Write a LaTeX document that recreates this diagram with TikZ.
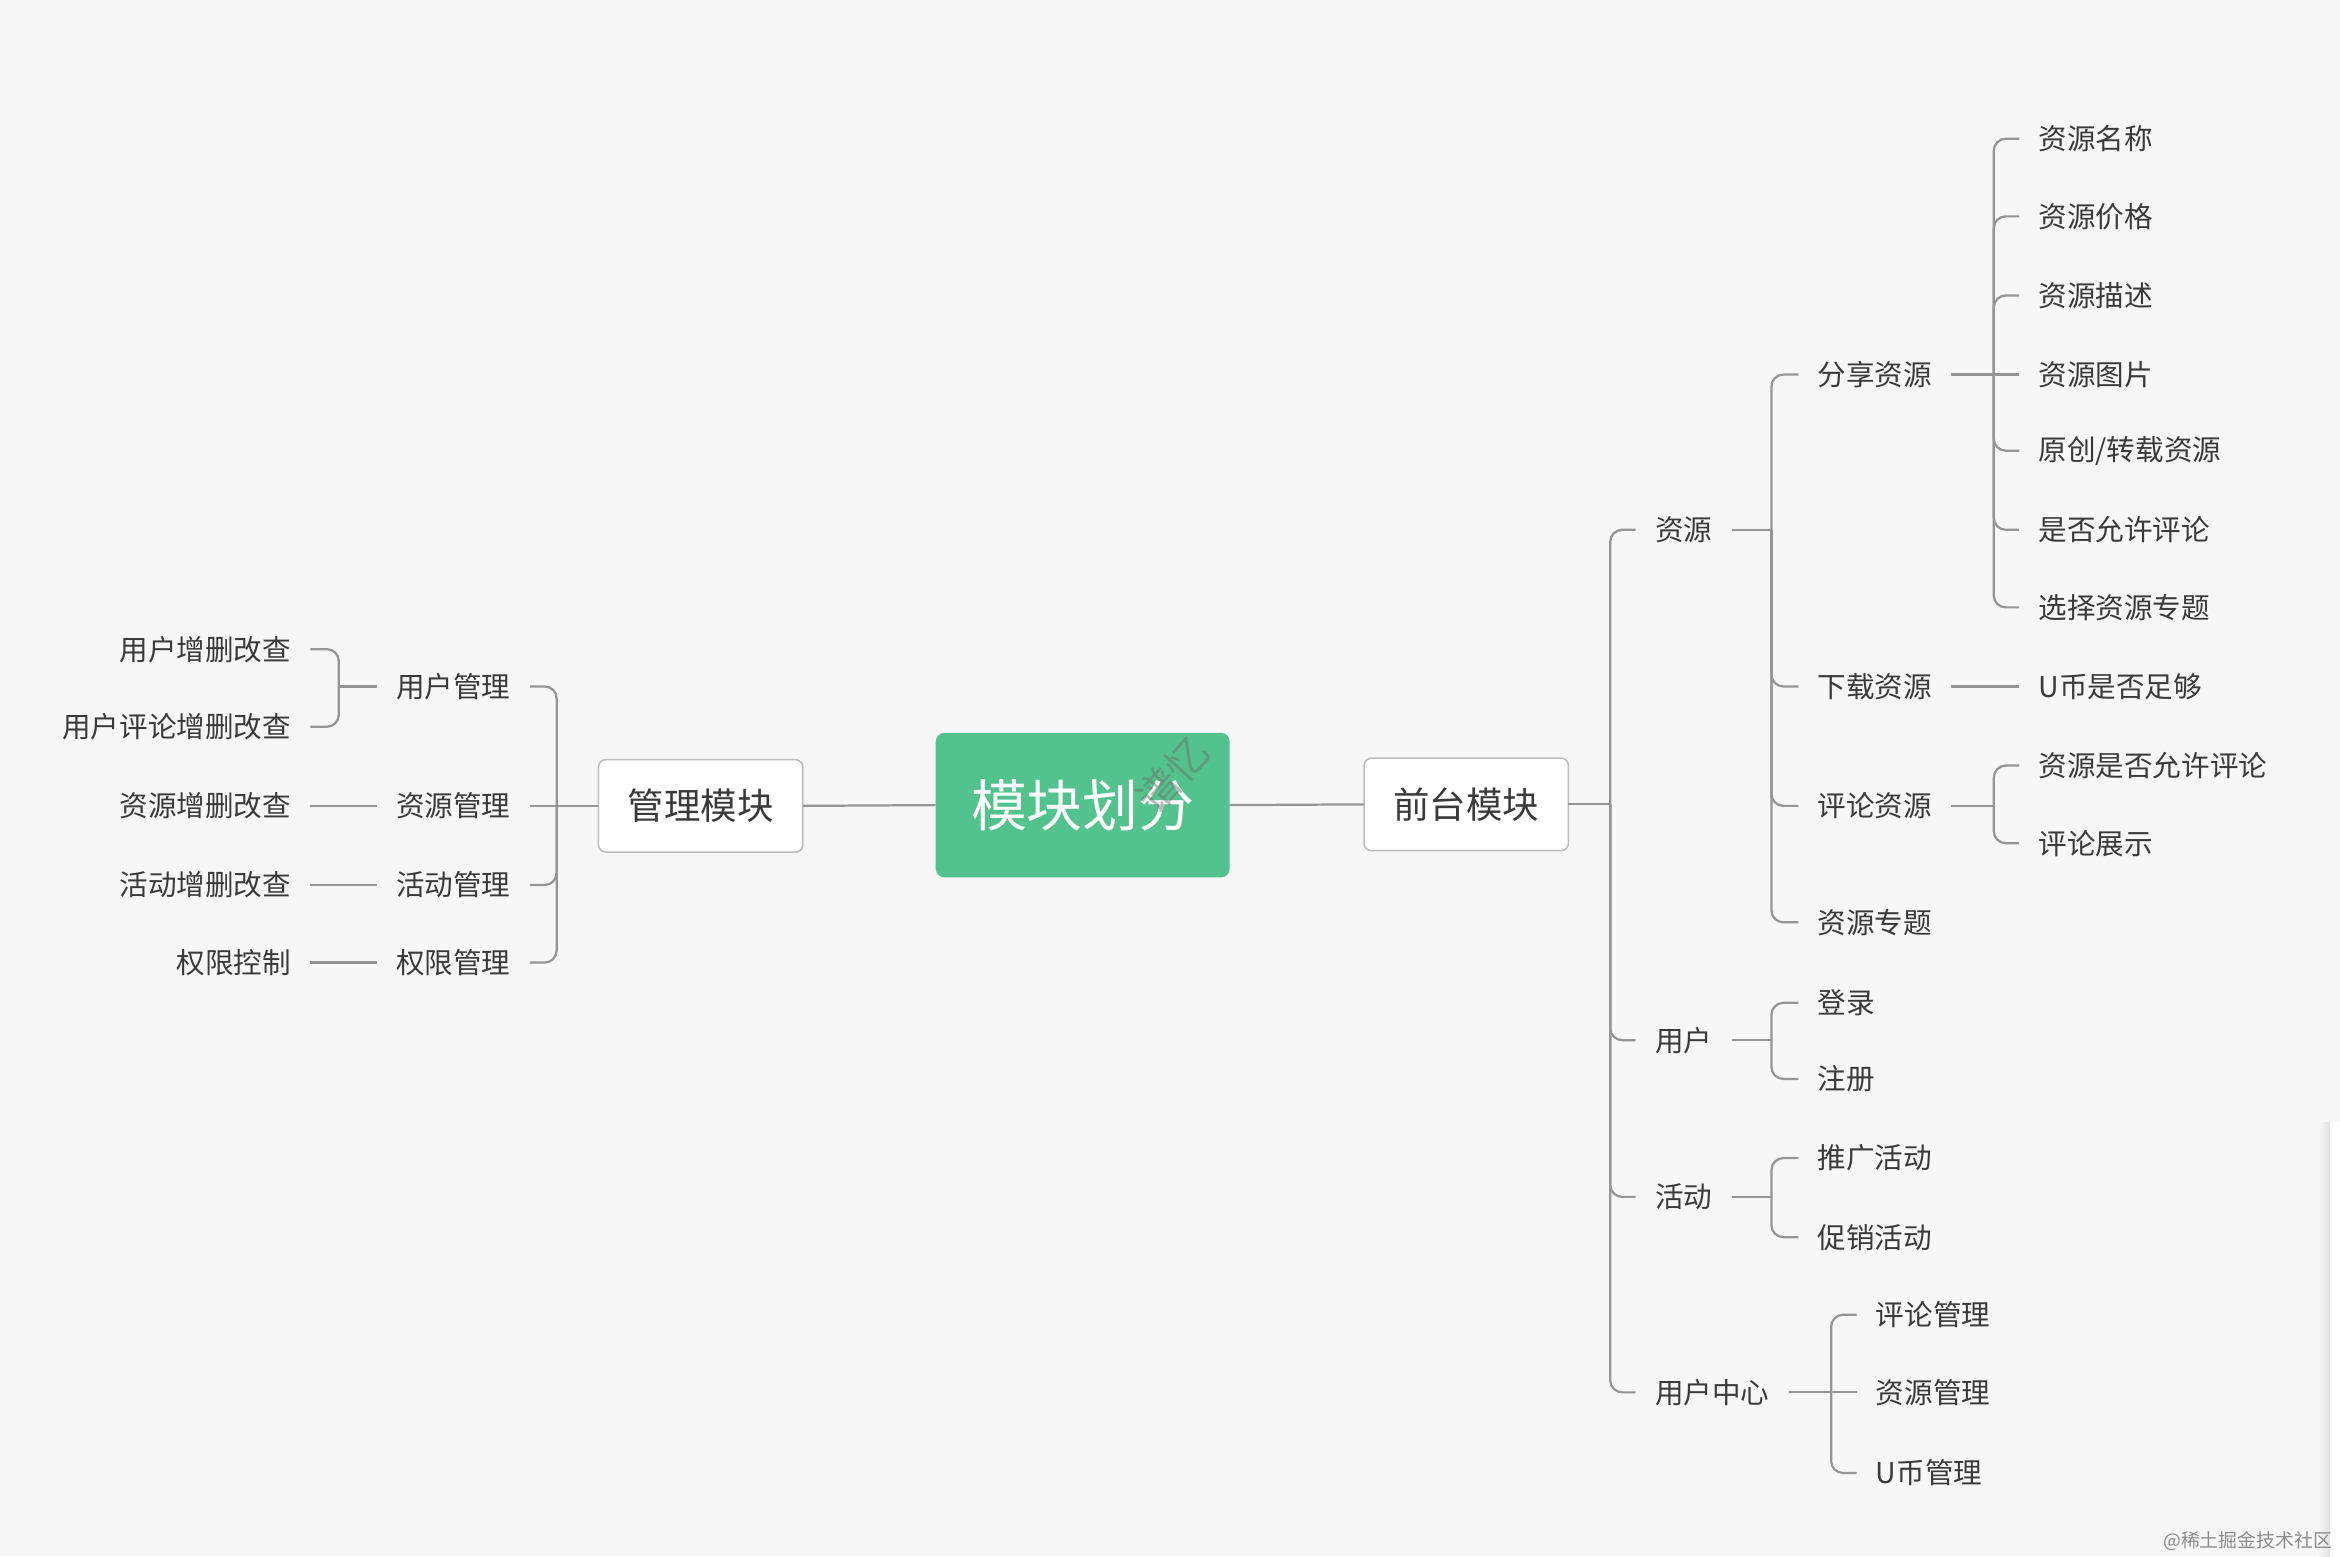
\documentclass[tikz,border=0pt]{standalone}
\usepackage{fontspec}
\setmainfont{Noto Sans CJK SC}
\definecolor{bg}{HTML}{F7F7F7}
\definecolor{ln}{HTML}{959595}
\definecolor{tx}{HTML}{3A3A3A}
\definecolor{grn}{HTML}{52C38C}
\definecolor{bd}{HTML}{BDBDBD}
\begin{document}
\begin{tikzpicture}[x=0.02cm,y=-0.02cm,
  leaf/.style={inner sep=0pt, outer xsep=0.26cm, outer ysep=0pt, text=tx, font=\fontsize{10.9}{13}\selectfont},
  lft/.style={leaf, anchor=east},
  rgt/.style={leaf, anchor=west},
  modbox/.style={draw=bd, line width=0.6pt, fill=white, rounded corners=0.1cm, minimum width=2.74cm, minimum height=1.24cm, text=tx, font=\fontsize{13.9}{16}\selectfont, inner sep=0pt, outer sep=0pt},
  rootbox/.style={fill=grn, rounded corners=0.12cm, minimum width=3.94cm, minimum height=1.94cm, text=white, font=\fontsize{21.3}{24}\selectfont, inner sep=0pt, outer sep=0pt},
  conn/.style={draw=ln, line width=0.85pt},
  br/.style={conn, rounded corners=0.16cm},
]
\useasboundingbox (0,0) rectangle (1568,1042.7);
\fill[bg] (0,0) rectangle (1568,1042.7);
\shade[left color=bg, right color=black!12] (1554,752) rectangle (1561,1042.7);
\fill[white] (1561,752) rectangle (1568,1042.7);

% main nodes
\node[rootbox] (R) at (725.5,539.5) {模块划分};
\node[rotate=48, text=black!55, opacity=0.5, font=\fontsize{16}{16}\selectfont] (wm) at (786,519) {谱忆};
\node[modbox] (M) at (469.5,540) {管理模块};
\node[modbox] (F) at (982.5,539) {前台模块};
\draw[conn] (M.east) -- (R.west);
\draw[conn] (R.east) -- (F.west);

% ---------- right side ----------
\node[rgt] (z1) at (1096,355) {资源};
\node[rgt] (z2) at (1096,697) {用户};
\node[rgt] (z3) at (1096,802) {活动};
\node[rgt] (z4) at (1096,933) {用户中心};
\coordinate (jF) at (1079,539);
\draw[conn] (F.east) -- (jF);
\foreach \c in {z1,z2,z3,z4} \draw[br] (jF) |- (\c.west);

\node[rgt] (s1) at (1205,251) {分享资源};
\node[rgt] (s2) at (1205,460) {下载资源};
\node[rgt] (s3) at (1205,540) {评论资源};
\node[rgt] (s4) at (1205,618) {资源专题};
\coordinate (jz1) at (1187,355);
\draw[conn] (z1.east) -- (jz1);
\foreach \c in {s1,s2,s3,s4} \draw[br] (jz1) |- (\c.west);

\node[rgt] (a1) at (1353,93) {资源名称};
\node[rgt] (a2) at (1353,145) {资源价格};
\node[rgt] (a3) at (1353,198) {资源描述};
\node[rgt] (a4) at (1353,251) {资源图片};
\node[rgt] (a5) at (1353,302) {原创/转载资源};
\node[rgt] (a6) at (1353,355) {是否允许评论};
\node[rgt] (a7) at (1353,407) {选择资源专题};
\coordinate (js1) at (1336,251);
\draw[conn] (s1.east) -- (js1);
\foreach \c in {a1,a2,a3,a5,a6,a7} \draw[br] (js1) |- (\c.west);
\draw[conn] (js1) -- (a4.west);

\node[rgt] (u1) at (1353,460) {U币是否足够};
\draw[conn] (s2.east) -- (u1.west);

\node[rgt] (c1) at (1353,513) {资源是否允许评论};
\node[rgt] (c2) at (1353,565) {评论展示};
\coordinate (js3) at (1336,540);
\draw[conn] (s3.east) -- (js3);
\foreach \c in {c1,c2} \draw[br] (js3) |- (\c.west);

\node[rgt] (d1) at (1205,672) {登录};
\node[rgt] (d2) at (1205,723) {注册};
\coordinate (jz2) at (1187,697);
\draw[conn] (z2.east) -- (jz2);
\foreach \c in {d1,d2} \draw[br] (jz2) |- (\c.west);

\node[rgt] (e1) at (1205,776) {推广活动};
\node[rgt] (e2) at (1205,829) {促销活动};
\coordinate (jz3) at (1187,802);
\draw[conn] (z3.east) -- (jz3);
\foreach \c in {e1,e2} \draw[br] (jz3) |- (\c.west);

\node[rgt] (g1) at (1244,881) {评论管理};
\node[rgt] (g2) at (1244,933) {资源管理};
\node[rgt] (g3) at (1244,987) {U币管理};
\coordinate (jz4) at (1227,933);
\draw[conn] (z4.east) -- (jz4);
\foreach \c in {g1,g3} \draw[br] (jz4) |- (\c.west);
\draw[conn] (jz4) -- (g2.west);

% ---------- left side ----------
\node[lft] (m1) at (355,460) {用户管理};
\node[lft] (m2) at (355,540) {资源管理};
\node[lft] (m3) at (355,593) {活动管理};
\node[lft] (m4) at (355,645) {权限管理};
\coordinate (jM) at (373,540);
\draw[conn] (M.west) -- (jM);
\foreach \c in {m1,m3,m4} \draw[br] (jM) |- (\c.east);
\draw[conn] (jM) -- (m2.east);

\node[lft] (n1) at (208,435) {用户增删改查};
\node[lft] (n2) at (208,487) {用户评论增删改查};
\coordinate (jm1) at (227,460);
\draw[conn] (m1.west) -- (jm1);
\foreach \c in {n1,n2} \draw[br] (jm1) |- (\c.east);

\node[lft] (n3) at (208,540) {资源增删改查};
\node[lft] (n4) at (208,593) {活动增删改查};
\node[lft] (n5) at (208,645) {权限控制};
\draw[conn] (m2.west) -- (n3.east);
\draw[conn] (m3.west) -- (n4.east);
\draw[conn] (m4.west) -- (n5.east);

\node[anchor=east, text=black!45, inner sep=0pt, font=\fontsize{7.2}{8}\selectfont] (wm2) at (1563,1033) {@稀土掘金技术社区};
\end{tikzpicture}
\end{document}
